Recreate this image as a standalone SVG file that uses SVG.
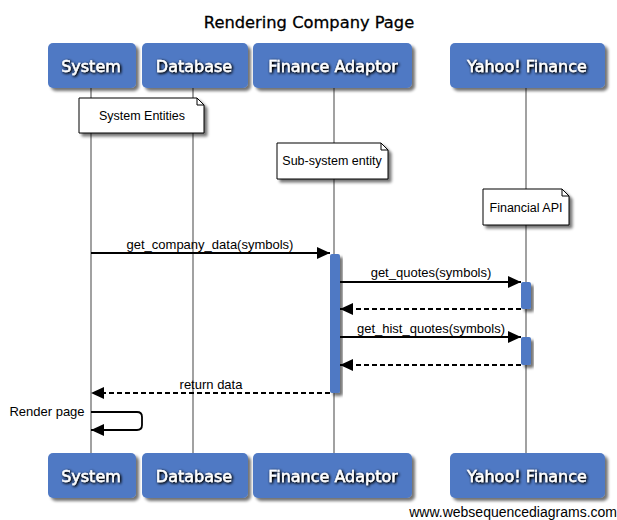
<svg xmlns="http://www.w3.org/2000/svg" width="617" height="520" viewBox="0 0 617 520">
<defs>
<filter id="sh" x="-20%" y="-20%" width="150%" height="160%">
<feGaussianBlur in="SourceAlpha" stdDeviation="1.5"/>
<feOffset dx="3" dy="3" result="b"/>
<feComponentTransfer><feFuncA type="linear" slope="0.55"/></feComponentTransfer>
<feMerge><feMergeNode/><feMergeNode in="SourceGraphic"/></feMerge>
</filter>
<filter id="tsh" x="-10%" y="-30%" width="120%" height="160%">
<feGaussianBlur in="SourceAlpha" stdDeviation="1.4"/>
<feOffset dx="0.7" dy="0.7"/>
<feComponentTransfer><feFuncA type="linear" slope="1.6"/></feComponentTransfer>
<feMerge><feMergeNode/><feMergeNode in="SourceGraphic"/></feMerge>
</filter>
<marker id="ah" markerUnits="userSpaceOnUse" markerWidth="14" markerHeight="12" refX="13" refY="6" orient="auto">
<path d="M0,0 L13,6 L0,12 z" fill="#000"/>
</marker>
</defs>
<style>
.box{fill:#4f79c4;filter:url(#sh)}
.bl{font-family:"DejaVu Sans",sans-serif;font-size:16px;fill:#fff;stroke:#fff;stroke-width:0.35;text-anchor:middle;filter:url(#tsh)}
.life{stroke:#8a8a8a;stroke-width:1.6;fill:none}
.act{fill:#4f79c4;filter:url(#sh)}
.note{fill:#fff;stroke:#000;stroke-width:1;filter:url(#sh)}
.nt{font-family:"Liberation Sans",Arial,sans-serif;font-size:12.5px;fill:#000;text-anchor:middle}
.msg{stroke:#000;stroke-width:1.8;fill:none;marker-end:url(#ah)}
.dash{stroke-dasharray:5,3}
.ml{font-family:"Liberation Sans",Arial,sans-serif;font-size:13px;fill:#000;text-anchor:middle}
</style>
<rect width="617" height="520" fill="#fff"/>
<text x="309" y="28" font-family="DejaVu Sans, sans-serif" font-size="16.3" text-anchor="middle" fill="#000" stroke="#000" stroke-width="0.3">Rendering Company Page</text>

<g id="lifelines">
<line class="life" x1="91" y1="88" x2="91" y2="453"/>
<line class="life" x1="193" y1="88" x2="193" y2="453"/>
<line class="life" x1="334" y1="88" x2="334" y2="453"/>
<line class="life" x1="526" y1="88" x2="526" y2="453"/>
</g>

<g id="system">
<rect class="box" x="48" y="43" width="88" height="45" rx="5"/>
<text class="bl" x="91" y="72">System</text>
<rect class="box" x="48" y="453" width="88" height="45" rx="5"/>
<text class="bl" x="91" y="482">System</text>
</g>
<g id="database">
<rect class="box" x="142" y="43" width="106" height="45" rx="5"/>
<text class="bl" x="194" y="72">Database</text>
<rect class="box" x="142" y="453" width="106" height="45" rx="5"/>
<text class="bl" x="194" y="482">Database</text>
</g>
<g id="finance-adaptor">
<rect class="box" x="253" y="43" width="159" height="45" rx="5"/>
<text class="bl" x="333" y="72">Finance Adaptor</text>
<rect class="box" x="253" y="453" width="159" height="45" rx="5"/>
<text class="bl" x="333" y="482">Finance Adaptor</text>
</g>
<g id="yahoo-finance">
<rect class="box" x="450" y="43" width="155" height="45" rx="5"/>
<text class="bl" x="527" y="72">Yahoo! Finance</text>
<rect class="box" x="450" y="453" width="155" height="45" rx="5"/>
<text class="bl" x="527" y="482">Yahoo! Finance</text>
</g>

<g id="note-system-entities">
<path class="note" d="M79,98 H197 L204,105 V133 H79 Z"/>
<path d="M197,98 V105 H204" fill="none" stroke="#000" stroke-width="1"/>
<text class="nt" x="142" y="120">System Entities</text>
</g>
<g id="note-subsystem">
<path class="note" d="M277,143 H381 L388,150 V179 H277 Z"/>
<path d="M381,143 V150 H388" fill="none" stroke="#000" stroke-width="1"/>
<text class="nt" x="332" y="165">Sub-system entity</text>
</g>
<g id="note-financial-api">
<path class="note" d="M483,189 H562 L569,196 V225 H483 Z"/>
<path d="M562,189 V196 H569" fill="none" stroke="#000" stroke-width="1"/>
<text class="nt" x="526" y="212">Financial API</text>
</g>

<g id="activations">
<rect class="act" x="330" y="254" width="10" height="139" rx="2"/>
<rect class="act" x="521" y="282" width="10" height="27" rx="2"/>
<rect class="act" x="521" y="337" width="10" height="28" rx="2"/>
</g>

<g id="connectors">
<line class="msg" x1="91" y1="253" x2="330" y2="253"/>
<text class="ml" x="210" y="249">get_company_data(symbols)</text>
<line class="msg" x1="340" y1="282" x2="521" y2="282"/>
<text class="ml" x="431" y="277">get_quotes(symbols)</text>
<line class="msg dash" x1="521" y1="309" x2="340" y2="309"/>
<line class="msg" x1="340" y1="337" x2="521" y2="337"/>
<text class="ml" x="431" y="333">get_hist_quotes(symbols)</text>
<line class="msg dash" x1="521" y1="365" x2="340" y2="365"/>
<line class="msg dash" x1="330" y1="393" x2="91" y2="393"/>
<text class="ml" x="211" y="389">return data</text>
<path class="msg" d="M91,412 H137 Q142,412 142,417 V425 Q142,430 137,430 H91"/>
<text class="ml" x="47" y="416" font-size="12.5">Render page</text>
</g>

<text x="617" y="517" font-family="Liberation Sans, Arial, sans-serif" font-size="14" text-anchor="end" fill="#000">www.websequencediagrams.com</text>
</svg>
